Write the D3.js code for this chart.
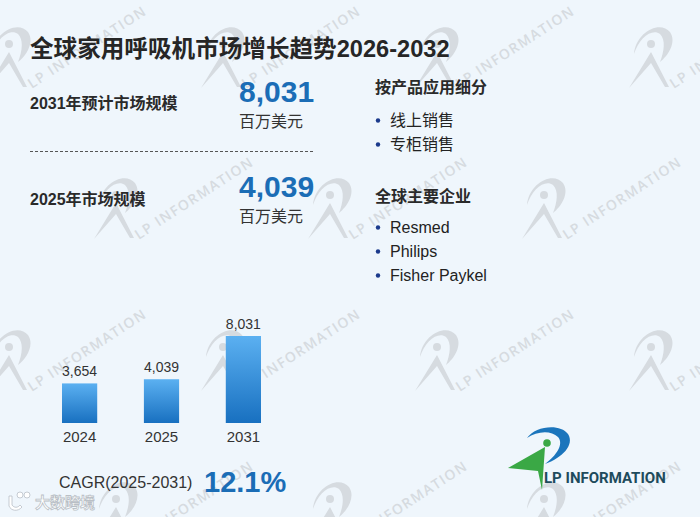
<!DOCTYPE html>
<html>
<head>
<meta charset="utf-8">
<script src="https://cdn.jsdelivr.net/npm/d3@7"></script>
<style>
  html, body { margin: 0; padding: 0; background: #eff6fc; }
  svg { display: block; }
  text { font-family: "Liberation Sans", Arial, "Noto Sans CJK SC", sans-serif; }
</style>
</head>
<body>
<div id="chart"></div>
<script>
// chart data
const title = "全球家用呼吸机市场增长趋势2026-2032";
const years = ["2024", "2025", "2031"];
const marketValues = [3654, 4039, 8031];
const statLabels = ["2031年预计市场规模", "2025年市场规模"];
const statValues = [8031, 4039];
const unitLabel = "百万美元";
const segmentTitle = "按产品应用细分";
const segments = ["线上销售", "专柜销售"];
const companyTitle = "全球主要企业";
const companies = ["Resmed", "Philips", "Fisher Paykel"];
const cagrLabel = "CAGR(2025-2031)";
const cagrValue = "12.1%";

const W = 700, H = 517;
const blue = "#1b6db6";
const fmt = d3.format(",");

const svg = d3.select("#chart").append("svg")
    .attr("width", W)
    .attr("height", H);

svg.append("rect").attr("width", W).attr("height", H).attr("fill", "#eff6fc");

const defs = svg.append("defs");
const grad = defs.append("linearGradient")
    .attr("id", "barGrad")
    .attr("x1", 0).attr("y1", 0).attr("x2", 0).attr("y2", 1);
grad.append("stop").attr("offset", "0%").attr("stop-color", "#5bb0f1");
grad.append("stop").attr("offset", "100%").attr("stop-color", "#1870c0");

// watermark tiles
const wmRows = [90, 241, 393, 545];
const wm = svg.append("g").attr("class", "watermark");
wmRows.forEach((y0, i) => {
    const xs = i % 2 === 0 ? [30, 244, 458, 672] : [137, 351, 565];
    xs.forEach(x0 => {
        const g = wm.append("g").attr("transform", `translate(${x0},${y0})`)
            .attr("fill", "#d6dbe0");
        g.append("path")
            .attr("d", "M-38,-36 C-36,-58 -12,-70 -2,-58 C5,-48 -4,-34 -12,-28 C-8,-38 -6,-50 -12,-56 C-20,-62 -33,-52 -38,-36 Z");
        g.append("circle").attr("cx", -21).attr("cy", -46).attr("r", 4);
        g.append("path").attr("d", "M-43,-2 L-21,-38 L-3,-3 L-7,-3 L-21,-27 Z");
        g.append("text")
            .attr("transform", "rotate(-33)")
            .attr("x", 2).attr("y", 0)
            .style("font-family", "'Open Sans', sans-serif")
            .style("font-weight", 600)
            .style("font-size", "14px")
            .style("letter-spacing", "1.4px")
            .text("LP INFORMATION");
    });
});

// title
svg.append("text")
    .attr("x", 30).attr("y", 57)
    .attr("fill", "#262626")
    .style("font-size", "23.6px")
    .style("font-weight", "bold")
    .text(title);

// key stats
const statY = [109, 205];
const valueY = [102, 197];
const unitY = [127, 222];
statLabels.forEach((lab, i) => {
    svg.append("text")
        .attr("x", 30).attr("y", statY[i])
        .attr("fill", "#2a2a2a")
        .style("font-size", "16px").style("font-weight", "bold")
        .text(lab);
    svg.append("text")
        .attr("x", 239).attr("y", valueY[i])
        .attr("fill", blue)
        .style("font-size", "30px").style("font-weight", "bold")
        .text(fmt(statValues[i]));
    svg.append("text")
        .attr("x", 239).attr("y", unitY[i])
        .attr("fill", "#333")
        .style("font-size", "16px")
        .text(unitLabel);
});

svg.append("line")
    .attr("x1", 30).attr("x2", 315)
    .attr("y1", 151.5).attr("y2", 151.5)
    .attr("stroke", "#555")
    .attr("stroke-width", 1)
    .attr("stroke-dasharray", "3,2");

// right lists
function drawList(heading, items, headY, firstY) {
    svg.append("text")
        .attr("x", 375).attr("y", headY)
        .attr("fill", "#2a2a2a")
        .style("font-size", "16px").style("font-weight", "bold")
        .text(heading);
    const rows = svg.selectAll(null).data(items).enter().append("g")
        .attr("transform", (d, i) => `translate(0,${firstY + i * 24})`);
    rows.append("circle")
        .attr("cx", 378).attr("cy", -5.5).attr("r", 2.2)
        .attr("fill", "#1b3a8c");
    rows.append("text")
        .attr("x", 390).attr("y", 0)
        .attr("fill", "#222")
        .style("font-size", "16px")
        .text(d => d);
}
drawList(segmentTitle, segments, 93, 126);
drawList(companyTitle, companies, 202, 233);

// bar chart
const x = d3.scaleBand()
    .domain(years)
    .range([62, 261])
    .paddingInner(0.57)
    .paddingOuter(0);

const y = d3.scaleLinear()
    .domain([0, d3.max(marketValues)])
    .range([423, 336]);

const barData = years.map((yr, i) => ({ year: yr, value: marketValues[i] }));

svg.selectAll(".bar")
    .data(barData)
    .enter()
    .append("rect")
    .attr("class", "bar")
    .attr("x", d => x(d.year))
    .attr("y", d => y(d.value))
    .attr("width", x.bandwidth())
    .attr("height", d => y(0) - y(d.value))
    .attr("fill", "url(#barGrad)");

svg.selectAll(".bar-label")
    .data(barData)
    .enter()
    .append("text")
    .attr("class", "bar-label")
    .attr("text-anchor", "middle")
    .attr("x", d => x(d.year) + x.bandwidth() / 2)
    .attr("y", d => y(d.value) - 7)
    .attr("fill", "#333")
    .style("font-size", "14px")
    .text(d => fmt(d.value));

const xAxis = d3.axisBottom(x).tickSize(0).tickPadding(0);
const axisG = svg.append("g")
    .attr("transform", `translate(0,${y(0)})`)
    .call(xAxis);
axisG.select(".domain").remove();
axisG.selectAll("text")
    .attr("dy", null)
    .attr("y", 19)
    .attr("fill", "#333")
    .style("font-family", "'Liberation Sans', Arial, sans-serif")
    .style("font-size", "15px");

// CAGR
svg.append("text")
    .attr("x", 59).attr("y", 488)
    .attr("fill", "#333")
    .style("font-size", "16px")
    .text(cagrLabel);
svg.append("text")
    .attr("x", 204).attr("y", 492)
    .attr("fill", blue)
    .style("font-size", "29px").style("font-weight", "bold")
    .text(cagrValue);

// bottom-left source watermark
const src = svg.append("g").attr("fill", "#fff").attr("stroke", "#b9bfc6").attr("stroke-width", 0.8);
src.append("path").attr("d", "M9,496 L12,496 L12,505 C14,508 18,508 20,505 L22,507 C18,512 11,511 9,506 Z");
src.append("circle").attr("cx", 20).attr("cy", 495).attr("r", 3);
src.append("circle").attr("cx", 27).attr("cy", 495).attr("r", 3);
src.append("text")
    .attr("x", 35).attr("y", 508)
    .style("font-size", "15px")
    .style("font-weight", "bold")
    .text("大数跨境");

// logo
const logo = svg.append("g");
logo.append("path")
    .attr("d", "M527,438 C535,426 560,423 568,434 C575,445 562,458 545,464 C557,455 564,444 558,437 C551,430 537,431 527,438 Z")
    .attr("fill", "#1b75bc");
logo.append("circle").attr("cx", 547).attr("cy", 443).attr("r", 3.8).attr("fill", "#3aa845");
logo.append("path").attr("d", "M508,468 L545,447 L542,490 L538,471 Z").attr("fill", "#3aa845");
logo.append("text")
    .attr("x", 544).attr("y", 483)
    .attr("fill", "#1e4b5c")
    .style("font-family", "Roboto, sans-serif")
    .style("font-weight", "bold")
    .style("font-size", "15px")
    .text("LP INFORMATION");
</script>
</body>
</html>
